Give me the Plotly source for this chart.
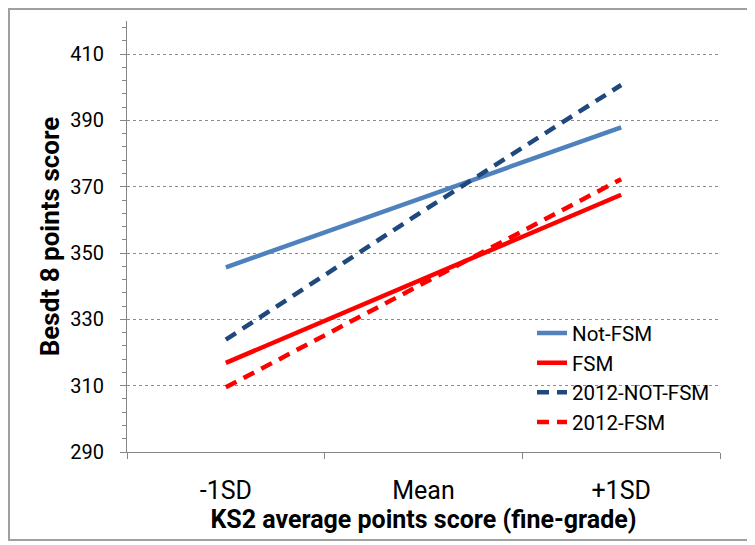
import plotly.graph_objects as go

# categorias do eixo x
categorias = ["-1SD", "Mean", "+1SD"]

# valores (Best 8 points score)
not_fsm = [345.7, 366.8, 387.9]
fsm = [316.9, 342.3, 367.6]
not_fsm_2012 = [323.9, 362.8, 400.7]
fsm_2012 = [309.5, 341.0, 372.3]

series = [
    ("Not-FSM", not_fsm, "#4F81BD", "solid"),
    ("FSM", fsm, "#FF0000", "solid"),
    ("2012-NOT-FSM", not_fsm_2012, "#1F497D", "12px,8px"),
    ("2012-FSM", fsm_2012, "#FF0000", "12px,8px"),
]

fig = go.Figure()
for nome, valores, cor, tracejado in series:
    fig.add_trace(go.Scatter(
        x=categorias, y=valores, name=nome, mode="lines",
        line=dict(color=cor, width=4.5, dash=tracejado),
    ))

fonte = "Roboto, Liberation Sans, sans-serif"
cinza = "#868686"

# a página tem 8px de margem no body, por isso 747x537
fig.update_layout(
    width=747, height=537,
    margin=dict(l=119, r=35, t=13, b=93),
    paper_bgcolor="white", plot_bgcolor="white",
    font=dict(family=fonte, size=20, color="black"),
    legend=dict(x=0.683, y=0.322, xanchor="left", yanchor="top",
                bgcolor="rgba(0,0,0,0)", font=dict(size=20.5),
                tracegroupgap=0),
    showlegend=True,
)

fig.update_xaxes(
    type="category", range=[-0.5, 2.5],
    showline=True, linecolor=cinza, linewidth=1,
    ticks="outside", tickson="boundaries", ticklen=6, tickcolor=cinza,
    showgrid=False, tickfont=dict(size=25), ticklabelstandoff=16,
    title=dict(text="<b>KS2 average points score (fine-grade)</b>",
               font=dict(size=25), standoff=5),
)

fig.update_yaxes(
    range=[290, 420], tickvals=[290, 310, 330, 350, 370, 390, 410],
    showline=True, linecolor=cinza, linewidth=1,
    ticks="outside", ticklen=6, tickcolor=cinza,
    minor=dict(dtick=4, tick0=290, ticks="outside", ticklen=4,
               tickcolor=cinza, showgrid=False),
    showgrid=True, gridcolor="#8C8C8C", griddash="dot", gridwidth=1,
    zeroline=False, tickfont=dict(size=20), ticklabelstandoff=12,
    title=dict(text="<b>Besdt 8 points score</b>", font=dict(size=26), standoff=3),
)

# moldura da área do gráfico
fig.add_shape(type="rect", xref="paper", yref="paper",
              x0=-0.199, x1=1.0506, y0=-0.204, y1=1.028,
              line=dict(color="#A0A0A0", width=2), layer="below")

fig.write_html("out.html")
